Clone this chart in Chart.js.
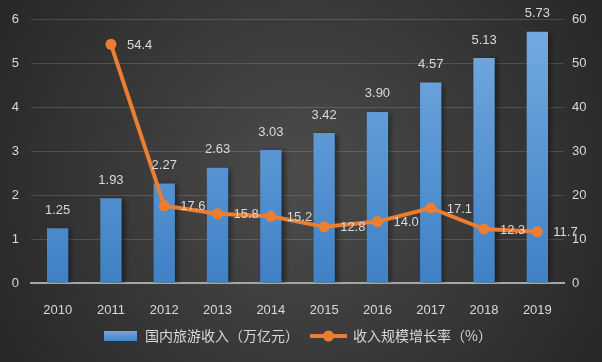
<!DOCTYPE html>
<html>
<head>
<meta charset="utf-8">
<title>国内旅游收入</title>
<script src="https://cdn.jsdelivr.net/npm/chart.js@4"></script>
<style>html,body{margin:0;padding:0;background:#333}canvas{display:block}</style>
</head>
<body>
<canvas id="chart" width="602" height="362"></canvas>
<script>
const years = ['2010','2011','2012','2013','2014','2015','2016','2017','2018','2019'];
const revenue = [1.25, 1.93, 2.27, 2.63, 3.03, 3.42, 3.90, 4.57, 5.13, 5.73];
const growth = [null, 54.4, 17.6, 15.8, 15.2, 12.8, 14.0, 17.1, 12.3, 11.7];
const revenueLabel = '国内旅游收入（万亿元）';
const growthLabel = '收入规模增长率（%）';

const txt = '#d9d9d9';
const orange = '#ed7d31';
const numFont = '13px "Liberation Sans", sans-serif';
const cjkFont = '14px "Noto Sans CJK SC", sans-serif';

const bgPlugin = {
  id: 'bg',
  beforeDraw(chart) {
    const ctx = chart.ctx;
    const g = ctx.createRadialGradient(301, 181, 20, 301, 181, 360);
    g.addColorStop(0, '#4a4a4a');
    g.addColorStop(1, '#262626');
    ctx.save();
    ctx.fillStyle = g;
    ctx.fillRect(0, 0, chart.width, chart.height);
    ctx.restore();
  }
};

const shadowPlugin = {
  id: 'shadow',
  beforeDatasetDraw(chart, args) {
    if (args.index !== 0) return;
    const ctx = chart.ctx;
    ctx.save();
    ctx.shadowColor = 'rgba(0,0,0,0.45)';
    ctx.shadowBlur = 5;
    ctx.shadowOffsetX = 3;
    ctx.shadowOffsetY = 1;
  },
  afterDatasetDraw(chart, args) {
    if (args.index !== 0) return;
    chart.ctx.restore();
  }
};

const labelPlugin = {
  id: 'vals',
  afterDatasetsDraw(chart) {
    const ctx = chart.ctx;
    ctx.save();
    ctx.font = numFont;
    ctx.fillStyle = txt;
    ctx.textBaseline = 'middle';
    chart.getDatasetMeta(0).data.forEach((bar, i) => {
      ctx.textAlign = 'center';
      ctx.fillText(revenue[i].toFixed(2), bar.x, bar.y - 18);
    });
    chart.getDatasetMeta(1).data.forEach((pt, i) => {
      if (growth[i] == null) return;
      ctx.textAlign = 'left';
      ctx.fillText(growth[i].toFixed(1), pt.x + 16, pt.y + 1);
    });
    ctx.restore();
  }
};

const legendPlugin = {
  id: 'legendBox',
  afterDraw(chart) {
    const ctx = chart.ctx;
    const y = 336;
    ctx.save();
    const g = ctx.createLinearGradient(0, y - 5, 0, y + 5);
    g.addColorStop(0, '#72a8e0');
    g.addColorStop(1, '#4485c8');
    ctx.fillStyle = g;
    ctx.fillRect(104, y - 5, 33, 10);
    ctx.font = cjkFont;
    ctx.fillStyle = txt;
    ctx.textBaseline = 'middle';
    ctx.textAlign = 'left';
    ctx.fillText(revenueLabel, 145, y);
    ctx.strokeStyle = orange;
    ctx.lineWidth = 4;
    ctx.beginPath();
    ctx.moveTo(310, y);
    ctx.lineTo(347, y);
    ctx.stroke();
    ctx.fillStyle = orange;
    ctx.beginPath();
    ctx.arc(328.5, y, 5.5, 0, Math.PI * 2);
    ctx.fill();
    ctx.fillStyle = txt;
    ctx.fillText(growthLabel, 353, y);
    ctx.restore();
  }
};

new Chart(document.getElementById('chart'), {
  type: 'bar',
  data: {
    labels: years,
    datasets: [
      {
        type: 'bar',
        label: revenueLabel,
        data: revenue,
        yAxisID: 'y',
        order: 2,
        barPercentage: 0.4,
        categoryPercentage: 1,
        backgroundColor(c) {
          const a = c.chart.chartArea;
          if (!a) return '#5b9bd5';
          const g = c.chart.ctx.createLinearGradient(0, a.top, 0, a.bottom);
          g.addColorStop(0, '#75abe2');
          g.addColorStop(1, '#3f81c5');
          return g;
        }
      },
      {
        type: 'line',
        label: growthLabel,
        data: growth,
        yAxisID: 'y1',
        order: 1,
        borderColor: orange,
        backgroundColor: orange,
        borderWidth: 4,
        pointRadius: 5.5,
        pointBackgroundColor: orange,
        pointBorderWidth: 0,
        tension: 0
      }
    ]
  },
  options: {
    responsive: false,
    animation: false,
    layout: { padding: { top: 19, left: 0, right: 0, bottom: 0 } },
    plugins: { legend: { display: false }, tooltip: { enabled: false } },
    scales: {
      x: {
        grid: { display: false },
        border: { color: '#a6a6a6', width: 2 },
        ticks: { color: txt, font: { family: '"Liberation Sans", sans-serif', size: 13 }, padding: 12 },
        afterFit(s) { s.height = 79; }
      },
      y: {
        position: 'left',
        min: 0, max: 6,
        ticks: { stepSize: 1, color: txt, font: { family: '"Liberation Sans", sans-serif', size: 13 }, padding: 12 },
        grid: { color: 'rgba(255,255,255,0.14)', drawTicks: false },
        border: { display: false },
        afterFit(s) { s.width = 31; }
      },
      y1: {
        position: 'right',
        min: 0, max: 60,
        ticks: { stepSize: 10, color: txt, font: { family: '"Liberation Sans", sans-serif', size: 13 }, padding: 8 },
        grid: { display: false, drawTicks: false },
        border: { display: false },
        afterFit(s) { s.width = 38; }
      }
    }
  },
  plugins: [bgPlugin, shadowPlugin, labelPlugin, legendPlugin]
});
</script>
</body>
</html>
